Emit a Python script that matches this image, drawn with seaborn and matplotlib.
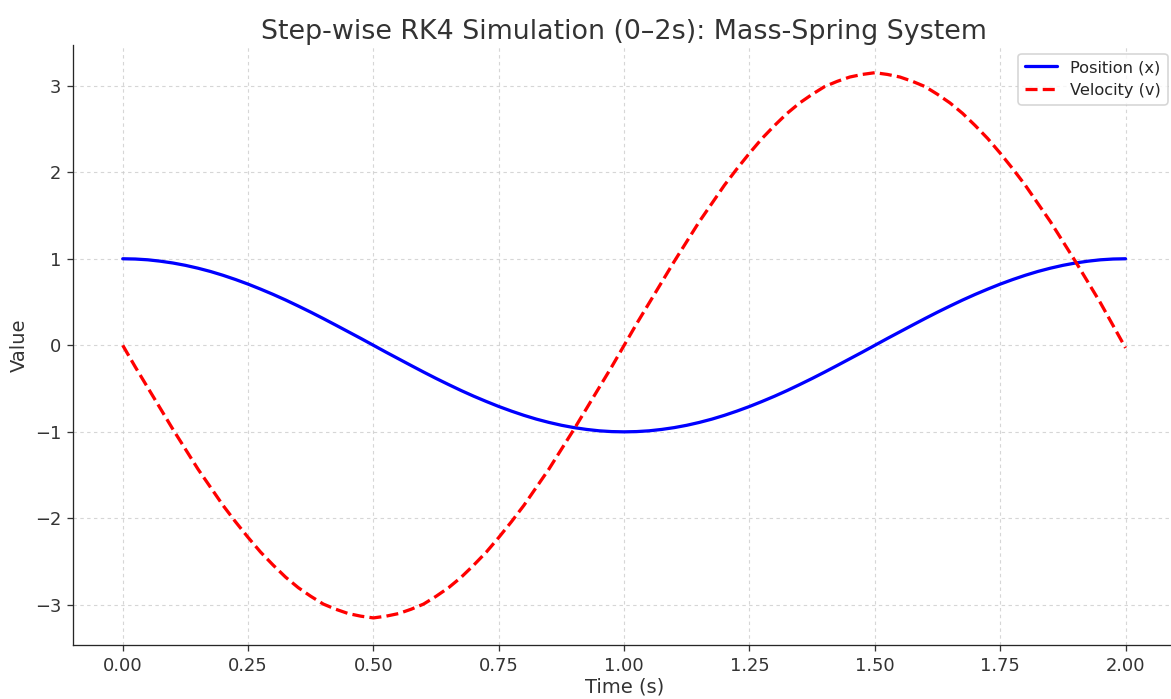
import numpy as np
import matplotlib
matplotlib.use("Agg")
import matplotlib.pyplot as plt
import pandas as pd
import seaborn as sns

# time steps (s), every 0.025 s
time_s = [0.000, 0.025, 0.050, 0.075, 0.100, 0.125, 0.150, 0.175, 0.200, 0.225,
          0.250, 0.275, 0.300, 0.325, 0.350, 0.375, 0.400, 0.425, 0.450, 0.475,
          0.500, 0.525, 0.550, 0.575, 0.600, 0.625, 0.650, 0.675, 0.700, 0.725,
          0.750, 0.775, 0.800, 0.825, 0.850, 0.875, 0.900, 0.925, 0.950, 0.975,
          1.000, 1.025, 1.050, 1.075, 1.100, 1.125, 1.150, 1.175, 1.200, 1.225,
          1.250, 1.275, 1.300, 1.325, 1.350, 1.375, 1.400, 1.425, 1.450, 1.475,
          1.500, 1.525, 1.550, 1.575, 1.600, 1.625, 1.650, 1.675, 1.700, 1.725,
          1.750, 1.775, 1.800, 1.825, 1.850, 1.875, 1.900, 1.925, 1.950, 1.975,
          2.000]

position = [1.000, 0.997, 0.988, 0.972, 0.951, 0.924, 0.891, 0.853, 0.809, 0.760,
            0.707, 0.649, 0.588, 0.523, 0.454, 0.383, 0.309, 0.233, 0.156, 0.079,
            0.000, -0.079, -0.156, -0.233, -0.309, -0.383, -0.454, -0.523, -0.588, -0.649,
            -0.707, -0.760, -0.809, -0.853, -0.891, -0.924, -0.951, -0.972, -0.988, -0.997,
            -1.000, -0.997, -0.988, -0.972, -0.951, -0.924, -0.891, -0.853, -0.809, -0.760,
            -0.707, -0.649, -0.588, -0.523, -0.454, -0.383, -0.309, -0.233, -0.156, -0.079,
            0.000, 0.079, 0.156, 0.233, 0.309, 0.383, 0.454, 0.523, 0.588, 0.649,
            0.707, 0.760, 0.809, 0.853, 0.891, 0.924, 0.951, 0.972, 0.988, 0.997,
            1.000]

velocity = [0.00, -0.25, -0.49, -0.73, -0.97, -1.20, -1.43, -1.64, -1.85, -2.04,
            -2.22, -2.39, -2.54, -2.68, -2.80, -2.90, -2.99, -3.05, -3.10, -3.13,
            -3.15, -3.13, -3.10, -3.05, -2.99, -2.90, -2.80, -2.68, -2.54, -2.39,
            -2.22, -2.04, -1.85, -1.64, -1.43, -1.20, -0.97, -0.73, -0.49, -0.25,
            0.00, 0.25, 0.49, 0.73, 0.97, 1.20, 1.43, 1.64, 1.85, 2.04,
            2.22, 2.39, 2.54, 2.68, 2.80, 2.90, 2.99, 3.05, 3.10, 3.13,
            3.15, 3.13, 3.10, 3.05, 2.99, 2.90, 2.80, 2.68, 2.54, 2.39,
            2.22, 2.04, 1.85, 1.64, 1.43, 1.20, 0.97, 0.73, 0.49, 0.23,
            -0.03]

df = pd.DataFrame({"t": time_s, "x": position, "v": velocity})

sns.set_style("ticks")
plt.rcParams["font.family"] = ["DejaVu Sans"]

fig, ax = plt.subplots(figsize=(1171 / 117, 699 / 117), dpi=117)

sns.lineplot(data=df, x="t", y="x", ax=ax, color="blue", linewidth=2,
             label="Position (x)")
sns.lineplot(data=df, x="t", y="v", ax=ax, color="red", linewidth=2,
             linestyle="--", label="Velocity (v)")

ax.set_title("Step-wise RK4 Simulation (0\u20132s): Mass-Spring System",
             fontsize=16.5, color="#333333", pad=4)
ax.set_xlabel("Time (s)", fontsize=12, color="#333333", labelpad=2)
ax.set_ylabel("Value", fontsize=12, color="#333333")
ax.set_xticks([0, 0.25, 0.5, 0.75, 1.0, 1.25, 1.5, 1.75, 2.0])
ax.tick_params(colors="#333333", labelsize=11)
ax.grid(True, linestyle=(0, (3, 3)), linewidth=0.7, color="#cccccc", alpha=0.8)
ax.legend(loc="upper right", fontsize=10)
sns.despine(ax=ax)

fig.subplots_adjust(left=0.062, right=1.004, bottom=0.077, top=0.935)
fig.savefig("out.png", dpi=117)
